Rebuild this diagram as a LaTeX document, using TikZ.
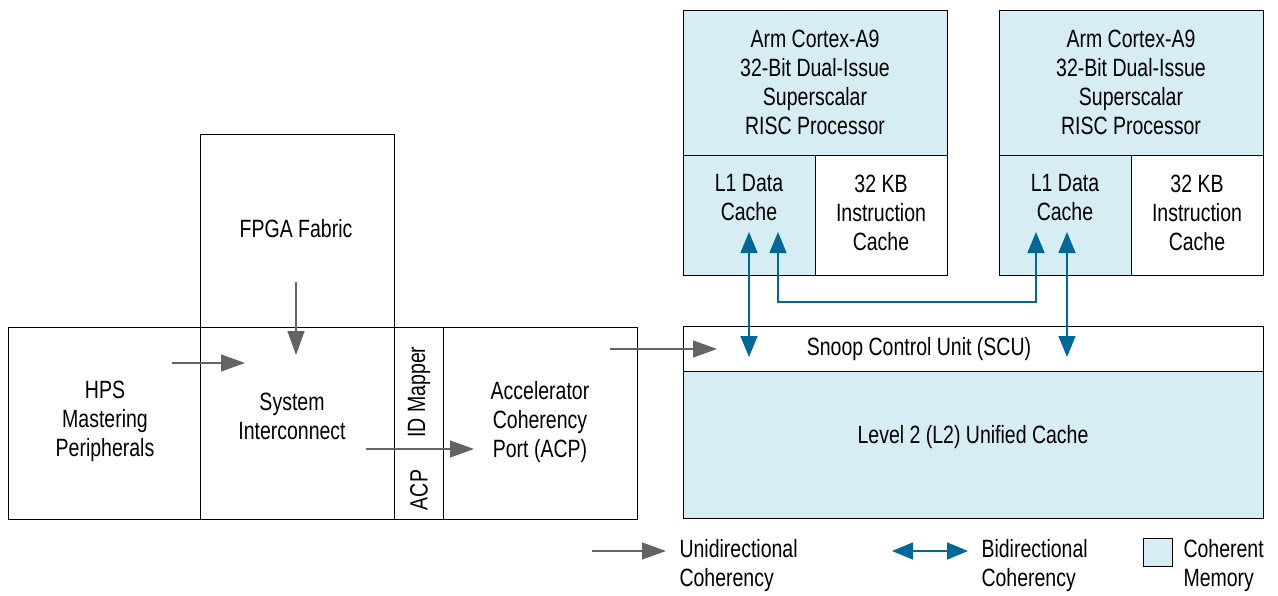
\documentclass[tikz,border=0pt]{standalone}
\usepackage{fontspec}
\setmainfont{Liberation Sans}[FakeStretch=0.78]
\usetikzlibrary{positioning, arrows.meta}
\definecolor{cohblue}{RGB}{214,237,244}
\definecolor{linkblue}{RGB}{0,104,152}
\definecolor{unigray}{RGB}{100,100,100}

\begin{document}
\begin{tikzpicture}[
    x=1pt, y=-1pt,
    section/.style={draw, line width=1pt, anchor=north west, inner sep=0pt},
    coherent/.style={fill=cohblue},
    boxfont/.style={font=\fontsize{25}{29}\selectfont, align=center},
    uni/.style={draw=unigray, line width=1.2pt, -{Triangle[length=24pt, width=17pt]}},
    bi/.style={draw=linkblue, line width=1.5pt, {Triangle[length=21pt, width=17pt]}-{Triangle[length=21pt, width=17pt]}},
    legendfont/.style={font=\fontsize{25}{29}\selectfont, align=left, anchor=west}
]
\useasboundingbox (0,0) rectangle (1278,595);

% Sizes
\def\rowtop{327}
\def\rowheight{192}
\def\cputop{10}
\def\cpuwidth{264}
\def\coreheight{145}
\def\cacheheight{120}

% HPS side
\node[section, minimum width=194pt, minimum height=193pt] (fpga) at (200,134) {};
\node[boxfont] (fpgalbl) at (296,229) {FPGA Fabric};
\node[section, minimum width=192pt, minimum height=\rowheight pt] (hps) at (8,\rowtop) {};
\node[boxfont] (hpslbl) at (105,421) {HPS\\Mastering\\Peripherals};
\node[section, minimum width=194pt, minimum height=\rowheight pt] (sysic) at (200,\rowtop) {};
\node[boxfont] (syslbl) at (292,416) {System\\Interconnect};
\node[section, minimum width=49pt, minimum height=\rowheight pt] (idmap) at (394,\rowtop) {};
\node[boxfont, rotate=90] (idlbl) at (419,392) {ID Mapper};
\node[boxfont, rotate=90] (acplbl) at (419,490) {ACP};
\node[section, minimum width=194pt, minimum height=\rowheight pt] (acp) at (443,\rowtop) {};
\node[boxfont] (acptxt) at (540,422) {Accelerator\\Coherency\\Port (ACP)};

% Processors
\foreach \i/\x in {0/683, 1/999} {
    \node[section, coherent, minimum width=\cpuwidth pt, minimum height=\coreheight pt] (core\i) at (\x,\cputop) {};
    \node[boxfont] (corelbl\i) at (\x+132,82) {Arm Cortex-A9\\32-Bit Dual-Issue\\Superscalar\\RISC Processor};
    \node[section, coherent, minimum width=132pt, minimum height=\cacheheight pt] (dcache\i) at (\x,155) {};
    \node[boxfont] (dlbl\i) at (\x+66,198) {L1 Data\\Cache};
    \node[section, minimum width=132pt, minimum height=\cacheheight pt] (icache\i) at (\x+132,155) {};
    \node[boxfont] (ilbl\i) at (\x+198,213) {32 KB\\Instruction\\Cache};
}

% SCU and L2
\node[section, minimum width=580pt, minimum height=45pt] (scu) at (683,326) {};
\node[boxfont] (sculbl) at (919,349) {Snoop Control Unit (SCU)};
\node[section, coherent, minimum width=580pt, minimum height=147pt] (ltwo) at (683,371) {};
\node[boxfont] (ltwolbl) at (973,437) {Level 2 (L2) Unified Cache};

% Arrow ends
\coordinate (hpsout) at (172,363);
\coordinate (sysin) at (245,363);
\coordinate (fpgaout) at (296,282);
\coordinate (sysin2) at (296,355);
\coordinate (sysout) at (366,449);
\coordinate (acpin) at (474,449);
\coordinate (acpout) at (610,349);
\coordinate (scuin) at (717,349);
\coordinate (dtop0) at (749,232);
\coordinate (dbot0) at (749,357);
\coordinate (dloopa) at (778,232);
\coordinate (dloopb) at (1036,232);
\coordinate (dtop1) at (1067,232);
\coordinate (dbot1) at (1067,357);

\draw[uni] (hpsout) -- (sysin);
\draw[uni] (fpgaout) -- (sysin2);
\draw[uni] (sysout) -- (acpin);
\draw[uni] (acpout) -- (scuin);
\draw[bi] (dtop0) -- (dbot0);
\draw[bi] (dtop1) -- (dbot1);
\draw[bi] (dloopa) -- ++(0,70) -| (dloopb);

% Legend
\coordinate (unia) at (592,551);
\coordinate (unib) at (666,551);
\draw[uni] (unia) -- (unib);
\node[legendfont] (unilbl) at (676,566) {Unidirectional\\Coherency};
\coordinate (bia) at (892,551);
\coordinate (bib) at (968,551);
\draw[bi] (bia) -- (bib);
\node[legendfont] (bilbl) at (978,566) {Bidirectional\\Coherency};
\node[section, coherent, minimum width=29pt, minimum height=28pt] (cohkey) at (1143,538) {};
\node[legendfont] (cohlbl) at (1180,566) {Coherent\\Memory};

\end{tikzpicture}
\end{document}
